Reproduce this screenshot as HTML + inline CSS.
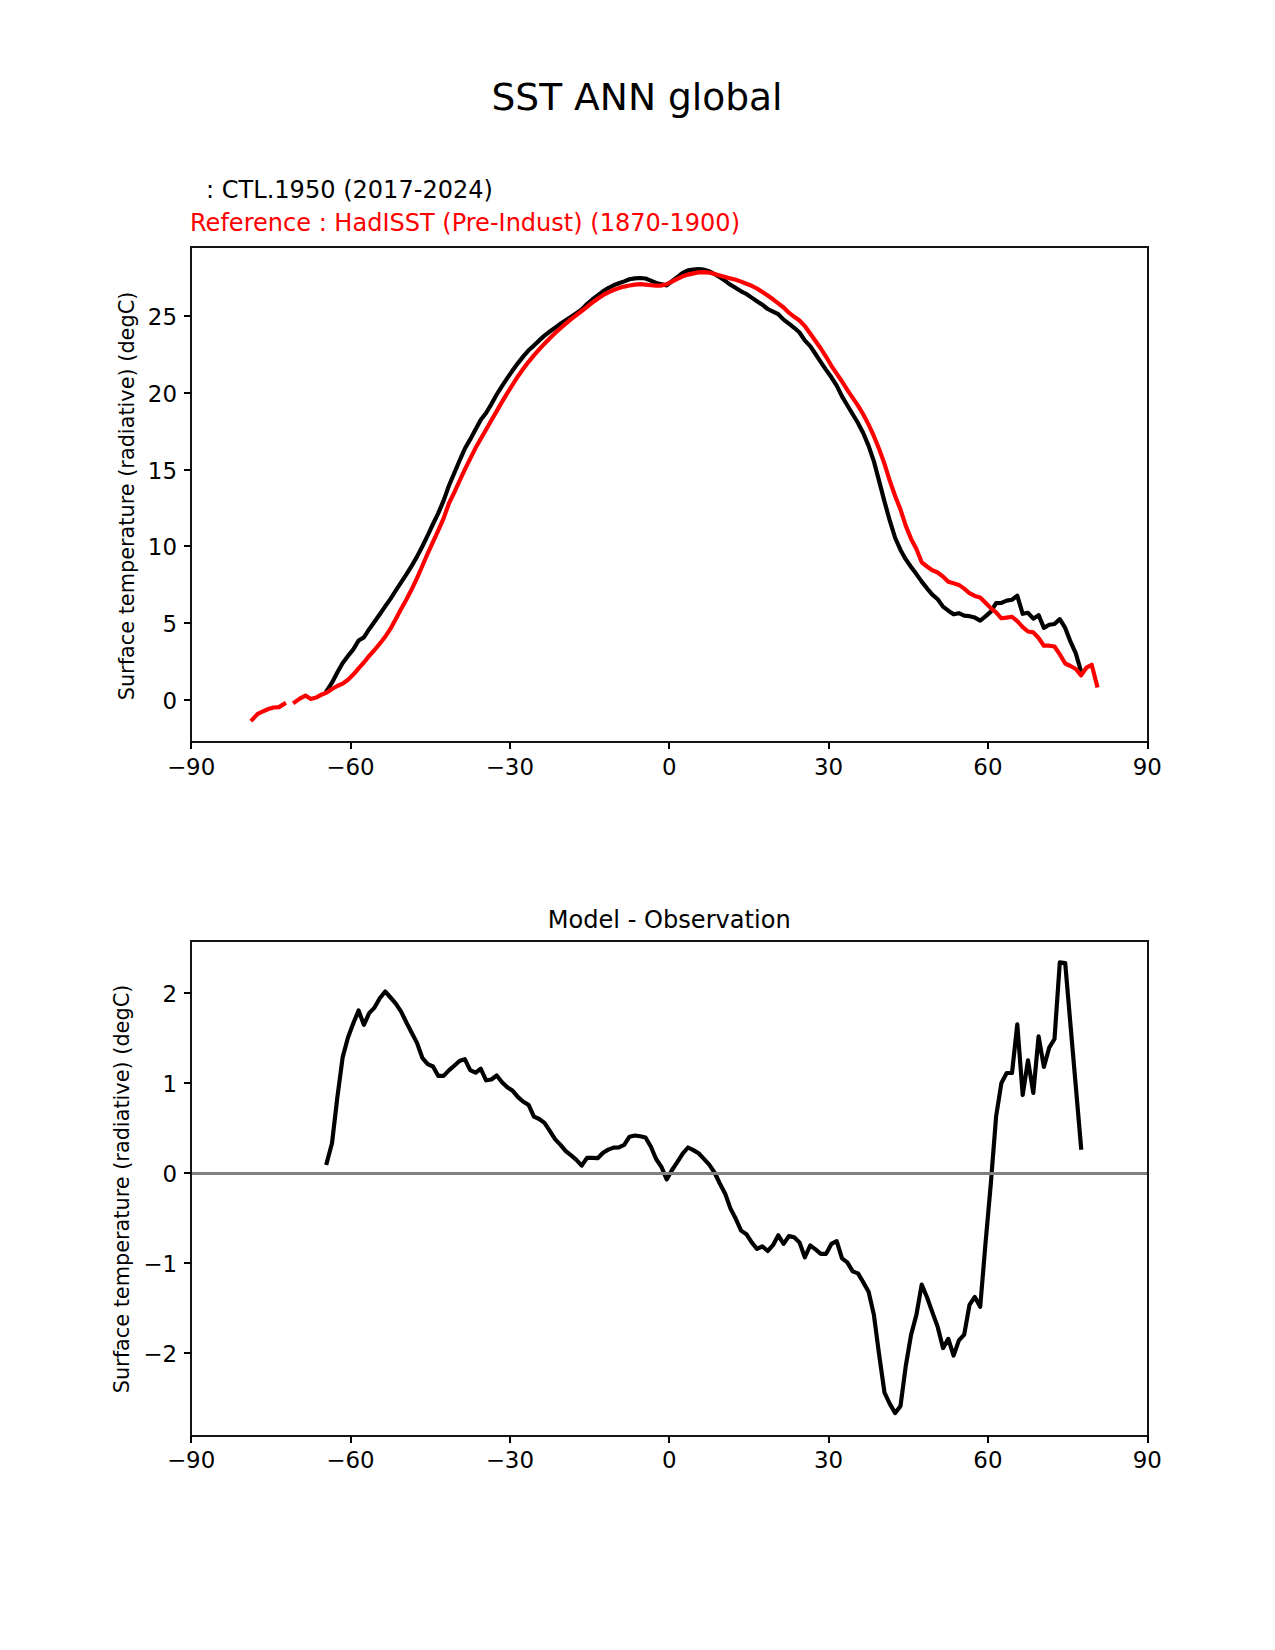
<!DOCTYPE html>
<html lang="en">
<head>
<meta charset="utf-8">
<title>SST ANN global</title>
<style>
html,body{margin:0;padding:0;background:#fff}
body{width:1275px;height:1650px;overflow:hidden}
svg{display:block}
text{font-family:"DejaVu Sans","Liberation Sans",sans-serif;fill:#000}
.t{font-size:22.90px}
.y{font-size:20.83px}
.m{font-size:24.40px}
.h{font-size:37.50px}
.ax{fill:none;stroke:#141414;stroke-width:2;stroke-linejoin:miter}
.tk{stroke:#000;stroke-width:2;fill:none}
.ln{fill:none;stroke-width:4.17;stroke-linejoin:round;stroke-linecap:square}
</style>
</head>
<body>
<svg width="1275" height="1650" viewBox="0 0 1275 1650">
<rect width="1275" height="1650" fill="#fff"/>
<text id="sup" class="h" x="637.0" y="109.9" text-anchor="middle" textLength="291" lengthAdjust="spacingAndGlyphs">SST ANN global</text>
<text id="l1" class="m" x="206" y="197.6" textLength="287" lengthAdjust="spacingAndGlyphs">: CTL.1950 (2017-2024)</text>
<text id="l2" class="m" x="190" y="230.7" textLength="550" lengthAdjust="spacingAndGlyphs" style="fill:#f00">Reference : HadISST (Pre-Indust) (1870-1900)</text>
<text id="t2" class="m" x="669.2" y="928.4" text-anchor="middle" textLength="243" lengthAdjust="spacingAndGlyphs">Model - Observation</text>
<g>
<path class="ln" stroke="#000" d="M326.7 690.9 L332.0 682.7 L337.3 672.5 L342.7 663.0 L348.0 655.9 L353.3 649.4 L358.6 640.5 L363.9 637.4 L369.2 629.2 L374.5 621.8 L379.8 614.3 L385.2 606.3 L390.5 598.9 L395.8 590.5 L401.1 582.4 L406.4 574.4 L411.7 565.9 L417.0 556.6 L422.3 546.5 L427.7 535.3 L433.0 524.0 L438.3 513.1 L443.6 500.6 L448.9 485.8 L454.2 473.2 L459.5 460.8 L464.8 448.8 L470.2 439.4 L475.5 429.5 L480.8 419.8 L486.1 413.0 L491.4 404.1 L496.7 394.5 L502.0 386.1 L507.3 378.1 L512.7 370.3 L518.0 363.1 L523.3 356.4 L528.6 350.3 L533.9 345.6 L539.2 340.4 L544.5 335.6 L549.8 331.5 L555.2 327.6 L560.5 323.8 L565.8 320.2 L571.1 316.7 L576.4 313.1 L581.7 309.4 L587.0 304.0 L592.3 299.5 L597.7 295.4 L603.0 291.3 L608.3 288.0 L613.6 285.3 L618.9 283.3 L624.2 281.4 L629.5 279.3 L634.8 278.4 L640.2 278.0 L645.5 278.5 L650.8 280.6 L656.1 282.9 L661.4 284.2 L666.7 285.4 L672.0 281.1 L677.3 277.1 L682.7 272.9 L688.0 270.4 L693.3 269.6 L698.6 269.2 L703.9 269.7 L709.2 271.3 L714.5 274.0 L719.8 277.3 L725.2 280.8 L730.5 284.8 L735.8 288.0 L741.1 291.3 L746.4 294.0 L751.7 297.6 L757.0 301.3 L762.3 304.7 L767.7 309.0 L773.0 311.6 L778.3 314.2 L783.6 319.6 L788.9 323.6 L794.2 327.8 L799.5 332.5 L804.8 340.4 L810.2 346.1 L815.5 354.0 L820.8 362.1 L826.1 369.9 L831.4 377.3 L836.7 385.6 L842.0 396.4 L847.3 405.3 L852.7 414.3 L858.0 423.0 L863.3 433.3 L868.6 445.9 L873.9 461.4 L879.2 481.4 L884.5 501.6 L889.8 520.7 L895.2 538.0 L900.5 549.9 L905.8 559.4 L911.1 567.0 L916.4 574.1 L921.7 581.6 L927.0 588.3 L932.3 594.6 L937.7 599.3 L943.0 606.6 L948.3 610.7 L953.6 614.3 L958.9 613.2 L964.2 615.7 L969.5 616.2 L974.8 617.6 L980.2 620.6 L985.5 616.4 L990.8 611.6 L996.1 603.2 L1001.4 602.9 L1006.7 600.6 L1012.0 599.7 L1017.3 595.8 L1022.7 613.8 L1028.0 612.8 L1033.3 618.7 L1038.6 615.1 L1043.9 627.9 L1049.2 624.8 L1054.5 624.0 L1059.8 619.1 L1065.2 627.9 L1070.5 641.7 L1075.8 653.4 L1081.1 671.6"/>
<path class="ln" stroke="#f00" d="M252.3 719.6 L257.7 713.9 L263.0 711.4 L268.3 709.0 L273.6 707.5 L278.9 707.1 L284.2 703.9 M294.8 702.2 L300.2 698.4 L305.5 695.6 L310.8 698.9 L316.1 697.6 L321.4 694.7 L326.7 692.6 L332.0 689.0 L337.3 686.0 L342.7 683.6 L348.0 679.7 L353.3 674.6 L358.6 668.3 L363.9 662.5 L369.2 655.9 L374.5 650.0 L379.8 643.7 L385.2 636.8 L390.5 628.7 L395.8 618.9 L401.1 609.1 L406.4 599.5 L411.7 589.3 L417.0 578.2 L422.3 566.0 L427.7 553.5 L433.0 541.9 L438.3 530.4 L443.6 518.4 L448.9 503.5 L454.2 492.6 L459.5 481.0 L464.8 469.6 L470.2 458.6 L475.5 448.1 L480.8 438.7 L486.1 429.5 L491.4 420.3 L496.7 411.1 L502.0 401.9 L507.3 393.1 L512.7 384.5 L518.0 376.2 L523.3 368.7 L528.6 361.8 L533.9 355.4 L539.2 349.4 L544.5 343.7 L549.8 338.3 L555.2 333.1 L560.5 328.2 L565.8 323.6 L571.1 319.2 L576.4 315.1 L581.7 311.0 L587.0 306.8 L592.3 302.7 L597.7 298.7 L603.0 295.2 L608.3 292.3 L613.6 290.0 L618.9 288.1 L624.2 286.6 L629.5 285.5 L634.8 284.6 L640.2 284.2 L645.5 284.6 L650.8 285.2 L656.1 285.7 L661.4 285.6 L666.7 284.2 L672.0 281.7 L677.3 278.9 L682.7 276.3 L688.0 274.6 L693.3 273.4 L698.6 272.4 L703.9 272.1 L709.2 272.6 L714.5 274.0 L719.8 275.4 L725.2 276.9 L730.5 278.4 L735.8 279.8 L741.1 281.6 L746.4 283.7 L751.7 285.8 L757.0 288.5 L762.3 291.9 L767.7 295.5 L773.0 299.3 L778.3 303.3 L783.6 307.5 L788.9 312.7 L794.2 316.8 L799.5 320.5 L804.8 326.1 L810.2 333.5 L815.5 341.0 L820.8 348.5 L826.1 356.8 L831.4 365.8 L836.7 373.7 L842.0 381.5 L847.3 389.8 L852.7 397.8 L858.0 405.7 L863.3 414.5 L868.6 424.6 L873.9 436.2 L879.2 449.3 L884.5 463.9 L889.8 480.8 L895.2 496.3 L900.5 509.6 L905.8 525.9 L911.1 538.9 L916.4 548.9 L921.7 562.3 L927.0 566.5 L932.3 570.3 L937.7 572.5 L943.0 576.6 L948.3 581.8 L953.6 583.3 L958.9 584.9 L964.2 588.6 L969.5 593.2 L974.8 595.9 L980.2 597.5 L985.5 602.8 L990.8 608.1 L996.1 612.3 L1001.4 618.3 L1006.7 617.6 L1012.0 616.8 L1017.3 621.1 L1022.7 627.1 L1028.0 631.5 L1033.3 632.4 L1038.6 638.0 L1043.9 645.7 L1049.2 645.7 L1054.5 646.5 L1059.8 654.4 L1065.2 663.5 L1070.5 666.0 L1075.8 669.0 L1081.1 675.4 L1086.4 667.7 L1091.7 664.8 L1097.0 685.5"/>
<rect class="ax" x="191" y="247" width="957" height="495"/>
<text class="t" x="191.1" y="775.2" text-anchor="middle">−90</text>
<text class="t" x="350.4" y="775.2" text-anchor="middle">−60</text>
<text class="t" x="509.8" y="775.2" text-anchor="middle">−30</text>
<text class="t" x="669.2" y="775.2" text-anchor="middle">0</text>
<text class="t" x="828.5" y="775.2" text-anchor="middle">30</text>
<text class="t" x="987.9" y="775.2" text-anchor="middle">60</text>
<text class="t" x="1147.3" y="775.2" text-anchor="middle">90</text>
<text class="t" x="177.0" y="708.7" text-anchor="end">0</text>
<text class="t" x="177.0" y="631.7" text-anchor="end">5</text>
<text class="t" x="177.0" y="554.7" text-anchor="end">10</text>
<text class="t" x="177.0" y="478.7" text-anchor="end">15</text>
<text class="t" x="177.0" y="401.7" text-anchor="end">20</text>
<text class="t" x="177.0" y="324.7" text-anchor="end">25</text>
<path class="tk" d="M191 742v7 M351 742v7 M510 742v7 M669 742v7 M829 742v7 M988 742v7 M1148 742v7 M191 700h-7 M191 623h-7 M191 546h-7 M191 470h-7 M191 393h-7 M191 316h-7"/>
<text id="ayl" class="y" transform="translate(134.0 496.0) rotate(-90)" text-anchor="middle">Surface temperature (radiative) (degC)</text>
</g>
<g>
<path class="ln" stroke="#000" d="M326.7 1163.0 L332.0 1143.3 L337.3 1097.8 L342.7 1057.1 L348.0 1037.5 L353.3 1023.3 L358.6 1010.5 L363.9 1024.9 L369.2 1013.1 L374.5 1007.6 L379.8 998.2 L385.2 991.5 L390.5 997.5 L395.8 1003.7 L401.1 1011.6 L406.4 1022.5 L411.7 1032.7 L417.0 1042.9 L422.3 1057.8 L427.7 1064.1 L433.0 1066.5 L438.3 1075.9 L443.6 1075.9 L448.9 1070.4 L454.2 1065.7 L459.5 1061.0 L464.8 1059.1 L470.2 1070.1 L475.5 1072.7 L480.8 1068.8 L486.1 1080.3 L491.4 1079.5 L496.7 1075.5 L502.0 1082.2 L507.3 1087.3 L512.7 1090.8 L518.0 1097.1 L523.3 1101.8 L528.6 1104.9 L533.9 1116.7 L539.2 1119.0 L544.5 1122.9 L549.8 1130.8 L555.2 1139.4 L560.5 1144.9 L565.8 1151.2 L571.1 1155.4 L576.4 1159.8 L581.7 1165.6 L587.0 1157.8 L592.3 1157.9 L597.7 1158.2 L603.0 1152.7 L608.3 1149.6 L613.6 1147.6 L618.9 1147.3 L624.2 1144.9 L629.5 1136.7 L634.8 1135.5 L640.2 1136.3 L645.5 1137.5 L650.8 1146.5 L656.1 1159.0 L661.4 1166.9 L666.7 1179.4 L672.0 1170.0 L677.3 1162.2 L682.7 1153.6 L688.0 1147.5 L693.3 1150.1 L698.6 1153.3 L703.9 1158.9 L709.2 1164.7 L714.5 1172.5 L719.8 1183.5 L725.2 1193.7 L730.5 1208.6 L735.8 1218.8 L741.1 1230.6 L746.4 1234.2 L751.7 1242.4 L757.0 1248.9 L762.3 1246.3 L767.7 1251.0 L773.0 1245.2 L778.3 1235.3 L783.6 1243.9 L788.9 1236.1 L794.2 1237.3 L799.5 1242.4 L804.8 1257.3 L810.2 1245.5 L815.5 1249.4 L820.8 1253.8 L826.1 1253.8 L831.4 1243.9 L836.7 1241.1 L842.0 1258.4 L847.3 1262.4 L852.7 1271.4 L858.0 1273.4 L863.3 1282.4 L868.6 1291.8 L873.9 1314.9 L879.2 1355.2 L884.5 1392.6 L889.8 1403.9 L895.2 1413.1 L900.5 1406.0 L905.8 1365.8 L911.1 1334.7 L916.4 1314.9 L921.7 1284.6 L927.0 1297.3 L932.3 1312.1 L937.7 1326.9 L943.0 1348.1 L948.3 1338.9 L953.6 1355.6 L958.9 1340.4 L964.2 1334.7 L969.5 1304.8 L974.8 1296.9 L980.2 1306.8 L985.5 1243.3 L990.8 1184.0 L996.1 1116.5 L1001.4 1083.0 L1006.7 1073.0 L1012.0 1073.0 L1017.3 1024.3 L1022.7 1095.0 L1028.0 1060.3 L1033.3 1093.0 L1038.6 1036.3 L1043.9 1067.0 L1049.2 1047.7 L1054.5 1039.0 L1059.8 962.3 L1065.2 963.0 L1070.5 1025.0 L1075.8 1086.3 L1081.1 1147.7"/>
<path d="M191 1173.5H1148" stroke="#808080" stroke-width="3" fill="none"/>
<rect class="ax" x="191" y="941" width="957" height="495"/>
<text class="t" x="191.1" y="1468.2" text-anchor="middle">−90</text>
<text class="t" x="350.4" y="1468.2" text-anchor="middle">−60</text>
<text class="t" x="509.8" y="1468.2" text-anchor="middle">−30</text>
<text class="t" x="669.2" y="1468.2" text-anchor="middle">0</text>
<text class="t" x="828.5" y="1468.2" text-anchor="middle">30</text>
<text class="t" x="987.9" y="1468.2" text-anchor="middle">60</text>
<text class="t" x="1147.3" y="1468.2" text-anchor="middle">90</text>
<text class="t" x="177.0" y="1361.7" text-anchor="end">−2</text>
<text class="t" x="177.0" y="1271.7" text-anchor="end">−1</text>
<text class="t" x="177.0" y="1181.7" text-anchor="end">0</text>
<text class="t" x="177.0" y="1091.7" text-anchor="end">1</text>
<text class="t" x="177.0" y="1001.7" text-anchor="end">2</text>
<path class="tk" d="M191 1436v7 M351 1436v7 M510 1436v7 M669 1436v7 M829 1436v7 M988 1436v7 M1148 1436v7 M191 1353h-7 M191 1263h-7 M191 1173h-7 M191 1083h-7 M191 993h-7"/>
<text id="byl" class="y" transform="translate(129.2 1189.0) rotate(-90)" text-anchor="middle">Surface temperature (radiative) (degC)</text>
</g>
</svg>
</body>
</html>
